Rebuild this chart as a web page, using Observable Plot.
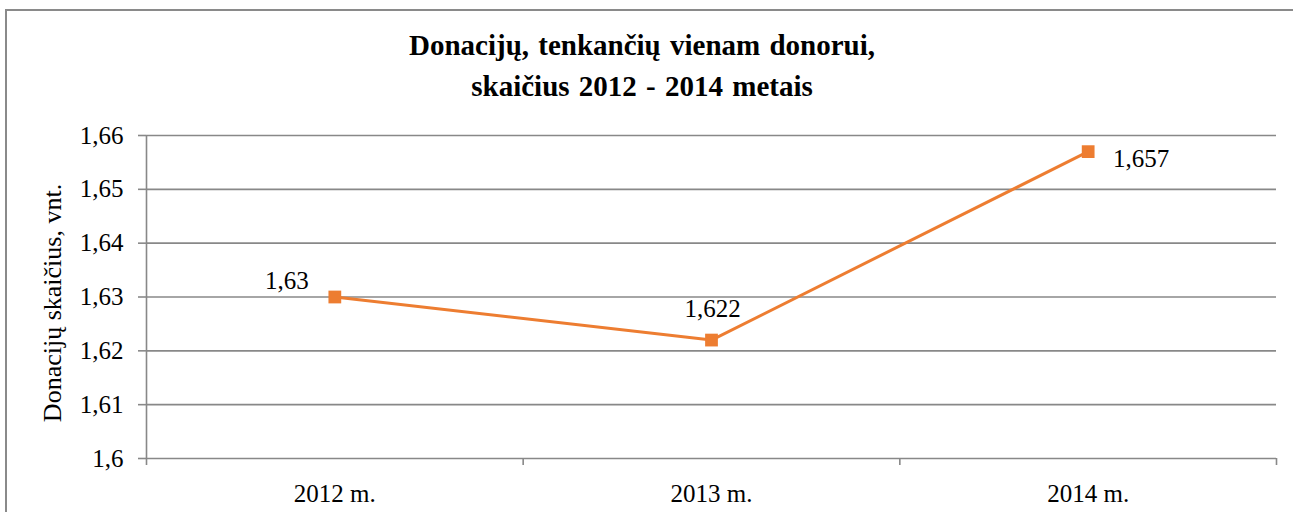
<!DOCTYPE html>
<html>
<head>
<meta charset="utf-8">
<script src="https://cdn.jsdelivr.net/npm/d3@7"></script>
<script src="https://cdn.jsdelivr.net/npm/@observablehq/plot@0.6"></script>
<style>
  html, body { margin: 0; padding: 0; background: #fff; overflow: hidden; }
  #wrap { position: relative; width: 1293px; height: 512px; }
  #border { position: absolute; left: 5px; top: 9px; width: 1320px; height: 620px;
            border: 2px solid #8a8a8a; box-sizing: border-box; pointer-events: none; }
  #title { position: absolute; left: 0; top: 25px; width: 1284px; text-align: center;
           font-family: "Liberation Serif", "DejaVu Serif", serif; font-weight: bold;
           font-size: 29px; line-height: 41px; color: #000; word-spacing: 2px; }
  #chart { position: absolute; left: 0; top: 0; }
</style>
</head>
<body>
<div id="wrap">
  <div id="chart"></div>
  <div id="title">Donacijų, tenkančių vienam donorui,<br>skaičius 2012 - 2014 metais</div>
  <div id="border"></div>
</div>
<script>
const categories = ["2012 m.", "2013 m.", "2014 m."];
const values = [1.63, 1.622, 1.657];
const yTicks = [1.6, 1.61, 1.62, 1.63, 1.64, 1.65, 1.66];
const yLabel = "Donacijų skaičius, vnt.";

const fmt = d => String(d).replace(".", ",");
const data = categories.map((c, i) => ({i, pos: i + 0.5, c, v: values[i]}));
const orange = "#ED7D31";
const grid = "#888888";

const chart = Plot.plot({
  width: 1293,
  height: 512,
  marginTop: 135,
  marginBottom: 54,
  marginLeft: 146,
  marginRight: 17,
  style: {fontFamily: "'Liberation Serif', 'DejaVu Serif', serif", fontSize: "25px", color: "#000", background: "transparent"},
  x: {type: "linear", domain: [0, categories.length]},
  y: {domain: [yTicks[0], yTicks[yTicks.length - 1]]},
  marks: [
    Plot.ruleY(yTicks, {stroke: grid, strokeWidth: 1.6}),
    Plot.ruleX([0], {stroke: grid, strokeWidth: 1.6}),
    Plot.axisY({ticks: yTicks, tickSize: 8, tickPadding: 15, tickFormat: fmt, stroke: grid, strokeWidth: 1.6, strokeOpacity: 1, label: null, fill: "#000"}),
    Plot.axisX({ticks: d3.range(categories.length + 1), tickSize: 7, tickFormat: () => "", stroke: grid, strokeWidth: 1.6, strokeOpacity: 1, label: null}),
    Plot.axisX({ticks: data.map(d => d.pos), tickSize: 0, tickPadding: 26, tickFormat: d => categories[Math.floor(d)], label: null, fill: "#000"}),
    Plot.line(data, {x: "pos", y: "v", stroke: orange, strokeWidth: 3}),
    Plot.dot(data, {x: "pos", y: "v", symbol: "square", r: 7.2, fill: orange, stroke: "none"}),
    Plot.text(data.filter(d => d.i === 0), {x: "pos", y: "v", text: d => fmt(d.v), dx: -48, dy: -16, fill: "#000"}),
    Plot.text(data.filter(d => d.i === 1), {x: "pos", y: "v", text: d => fmt(d.v), dx: 1, dy: -31, fill: "#000"}),
    Plot.text(data.filter(d => d.i === 2), {x: "pos", y: "v", text: d => fmt(d.v), dx: 53, dy: 7, fill: "#000"}),
    Plot.text([yLabel], {text: d => d, frameAnchor: "left", textAnchor: "middle", dx: -94, dy: 6, rotate: -90, fontSize: 26, fill: "#000"})
  ]
});
document.getElementById("chart").appendChild(chart);
</script>
</body>
</html>
